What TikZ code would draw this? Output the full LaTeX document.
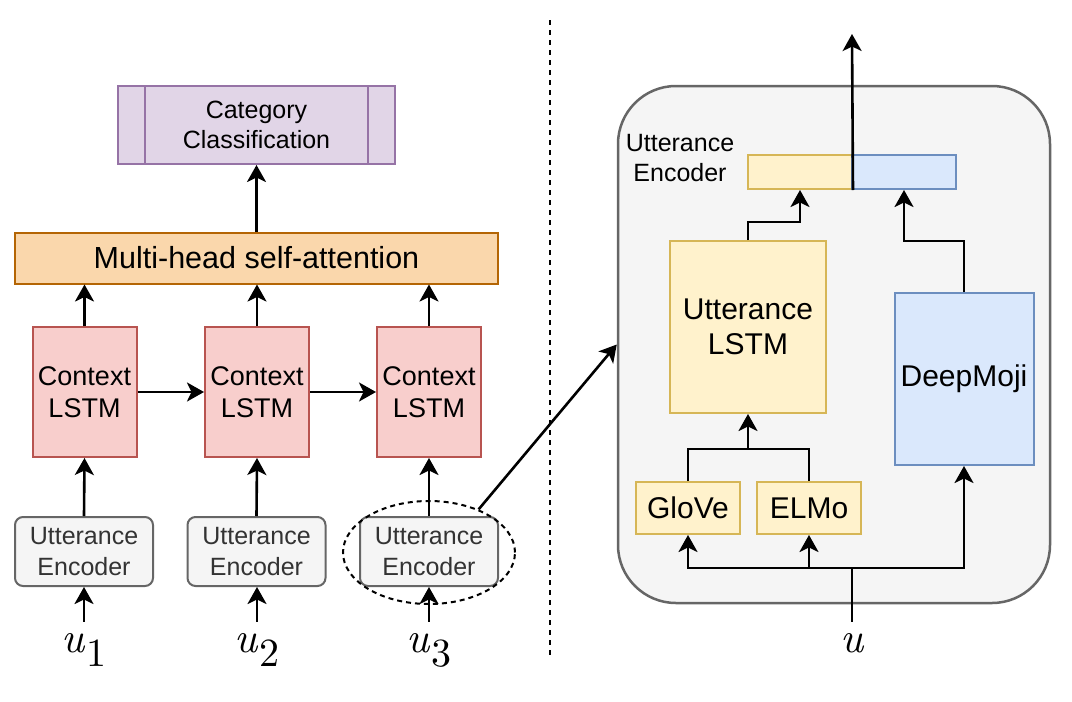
\documentclass[tikz,border=0pt]{standalone}
\usepackage{fontspec}
\newfontfamily\arialf{Liberation Sans}
\newfontfamily\lmit{lmroman10-italic.otf}
\newfontfamily\lmrm{lmroman10-regular.otf}
\usetikzlibrary{arrows.meta,shapes.geometric}
\definecolor{purF}{HTML}{E1D5E7}\definecolor{purD}{HTML}{9673A6}
\definecolor{orF}{HTML}{FAD7AC}\definecolor{orD}{HTML}{B46504}
\definecolor{redF}{HTML}{F8CECC}\definecolor{redD}{HTML}{B85450}
\definecolor{grF}{HTML}{F5F5F5}\definecolor{grD}{HTML}{666666}
\definecolor{yeF}{HTML}{FFF2CC}\definecolor{yeD}{HTML}{D6B656}
\definecolor{blF}{HTML}{DAE8FC}\definecolor{blD}{HTML}{6C8EBF}
\definecolor{txtG}{HTML}{333333}
\tikzset{
  box/.style={draw, line width=2pt, inner sep=0pt, align=center},
  f25/.style={font=\arialf\fontsize{25}{30}\selectfont},
  f27/.style={font=\arialf\fontsize{27}{32}\selectfont},
  f30/.style={font=\arialf\fontsize{30}{35}\selectfont},
  catbox/.style={box, fill=purF, draw=purD, minimum width=277pt, minimum height=78pt, f25},
  mhabox/.style={box, fill=orF, draw=orD, minimum width=483pt, minimum height=51pt, font=\arialf\fontsize{30.5}{35}\selectfont},
  ctxbox/.style={box, fill=redF, draw=redD, minimum width=104pt, minimum height=130pt, f27},
  encbox/.style={box, fill=grF, draw=grD, rounded corners=8pt, minimum width=138pt, minimum height=69pt, text=txtG, font=\arialf\fontsize{25}{31}\selectfont},
  ybox/.style={box, fill=yeF, draw=yeD, f30},
  bbox/.style={box, fill=blF, draw=blD, f30},
  unode/.style={anchor=base, inner xsep=0pt, inner ysep=11pt},
  arr/.style={line width=2.6pt, -{Stealth[length=17pt,width=19pt,inset=4.5pt]}},
  ln/.style={line width=2.6pt},
}
\newcommand{\ulab}[1]{{\fontsize{43}{43}\selectfont\lmit u}\ifx#1\empty\else\kern1.5pt\raisebox{-14pt}{\fontsize{40}{40}\selectfont\lmrm #1}\fi}
\begin{document}
\begin{tikzpicture}[x=1pt,y=-1pt]
\useasboundingbox (0,0) rectangle (1072,702);
% ---------- left part ----------
\node[catbox] (cat) at (256.5,125) {Category\\Classification};
\draw[purD, line width=2pt] ([xshift=28pt]cat.north west) -- ([xshift=28pt]cat.south west);
\draw[purD, line width=2pt] ([xshift=-28pt]cat.north east) -- ([xshift=-28pt]cat.south east);
\node[mhabox] (mha) at (256.5,258) {Multi-head self-attention};
\node[ctxbox] (ctx1) at (84.5,392) {Context\\LSTM};
\node[ctxbox] (ctx2) at (257,392) {Context\\LSTM};
\node[ctxbox] (ctx3) at (429,392) {Context\\LSTM};
\node[encbox] (enc1) at (84,551.5) {Utterance\\Encoder};
\node[encbox] (enc2) at (256.5,551.5) {Utterance\\Encoder};
\node[encbox] (enc3) at (429,551.5) {Utterance\\Encoder};
\node[ellipse, draw, dashed, dash pattern=on 5pt off 4pt, line width=2pt, minimum width=172pt, minimum height=103pt, inner sep=0pt] (ell) at (429,552.5) {};
\node[unode] (u1) at (84,652) {\ulab{1}};
\node[unode] (u2) at (257,652) {\ulab{2}};
\node[unode] (u3) at (429,652) {\ulab{3}};
\draw[arr] (mha.north) -- (cat.south);
\foreach \i in {1,2,3}{
  \draw[arr] (ctx\i.north) -- (ctx\i.north |- mha.south);
  \draw[arr] (enc\i.north) -- (ctx\i.south);
  \draw[arr] (u\i.north) -- (u\i.north |- enc\i.south);
}
\draw[arr] (ctx1.east) -- (ctx2.west);
\draw[arr] (ctx2.east) -- (ctx3.west);
% divider
\coordinate (dtop) at (550,20);
\coordinate (dbot) at (550,655);
\draw[line width=2.5pt, dash pattern=on 5pt off 5pt] (dtop) -- (dbot);
% ---------- right part ----------
\node[draw=grD, fill=grF, line width=2.5pt, rounded corners=58pt, minimum width=432pt, minimum height=517pt, inner sep=0pt] (big) at (834,344.5) {};
\draw[arr] (ell.41) -- (big.west);
\node[f25, align=center, inner sep=0pt] (enclab) at (680,158) {Utterance\\Encoder};
\node[box, fill=yeF, draw=yeD, minimum width=104pt, minimum height=34pt] (barY) at (800,172) {};
\node[box, fill=blF, draw=blD, minimum width=104pt, minimum height=34pt] (barB) at (904,172) {};
\coordinate (out) at (852,34);
\draw[arr] (barY.south east) -- (out);
\node[ybox, minimum width=156pt, minimum height=172pt] (ulstm) at (748,327) {Utterance\\LSTM};
\node[bbox, minimum width=139pt, minimum height=172pt] (dm) at (964,379) {DeepMoji};
\node[ybox, minimum width=104pt, minimum height=52pt] (glove) at (688,508) {GloVe};
\node[ybox, minimum width=104pt, minimum height=52pt] (elmo) at (809,508) {ELMo};
\node[unode] (u) at (852,652) {\ulab{}};
\draw[arr] (ulstm.north) -- ++(0,-18) -| (barY.south);
\draw[arr] (dm.north) -- ++(0,-51) -| (barB.south);
\coordinate (join) at (748,449);
\draw[ln] (glove.north) |- (join) -| (elmo.north);
\draw[arr] (join) -- (ulstm.south);
\coordinate (split) at (852,568);
\draw[ln] (u.north) -- (split);
\draw[arr] (split) -| (glove.south);
\draw[arr] (split) -| (elmo.south);
\draw[arr] (split) -| (dm.south);
\end{tikzpicture}
\end{document}
